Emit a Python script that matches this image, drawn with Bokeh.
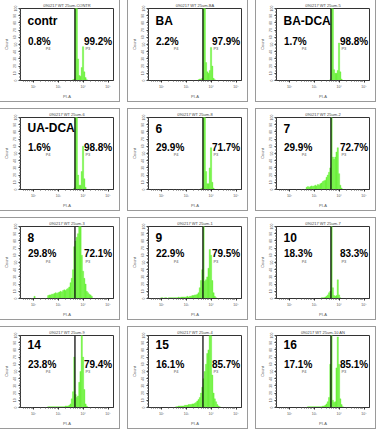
import numpy as np
from bokeh.plotting import figure
from bokeh.layouts import gridplot
from bokeh.models import Span, Label, FixedTicker
from bokeh.embed import file_html
from bokeh.resources import INLINE

# ---- data -------------------------------------------------------------
names = ["contr", "BA", "BA-DCA", "UA-DCA", "6", "7", "8", "9", "10", "14", "15", "16"]
titles = ["090217 WT 25um-CONTR", "090217 WT 25um-BA", "090217 WT 25um-5",
          "090217 WT 25um-6", "090217 WT 25um-8", "090217 WT 25um-2",
          "090217 WT 25um-3", "090217 WT 25um-1", "090217 WT 25um-7",
          "090217 WT 25um-9", "090217 WT 25um-4", "090217 WT 25um-10 AN"]
pct_p4 = ["0.8%", "2.2%", "1.7%", "1.6%", "29.9%", "29.9%", "29.8%", "22.9%", "18.3%", "23.8%", "16.1%", "17.1%"]
pct_p3 = ["99.2%", "97.9%", "98.8%", "98.8%", "71.7%", "72.7%", "72.1%", "79.5%", "83.3%", "79.4%", "85.7%", "85.1%"]

# histogram bins along log10(PI-A): first edge and width (decades)
bin_first = 1.97
bin_width = 0.05
gate_log = 3.67

# counts as % of the y-axis height, 48 bins each
h_contr = [0,0,0,0,0,0,0,0,0,0, 0,0,0,0,0,0,0,0,0,0, 0,0,0,0,0,0,0,0,0,0,
           0,0,1,2,120,120,30,7,6,18, 47,12,4,1,0,0,0,0]
h_ba = [0,0,0,0,0,0,0,0,0,0, 0,0,0,0,0,0,0,0,0,0, 0,0,0,0,0,0,0,0,0,0,
        1,2,2,3,120,110,25,12,10,14, 46,20,3,1,0,0,0,0]
h_badca = [0,0,0,0,0,0,0,0,0,0, 0,0,0,0,0,0,0,0,0,0, 0,0,0,0,0,0,0,0,0,0,
           0,0,0,1,120,100,15,10,10,14, 52,12,2,0,0,0,0,0]
h_uadca = [0,0,0,0,0,0,0,0,0,0, 0,0,0,0,0,0,0,0,0,0, 0,0,0,0,0,0,0,0,0,0,
           0,0,0,2,120,110,20,6,6,25, 60,15,3,0,0,0,0,0]
h_6 = [0,0,0,0,0,0,0,0,0,0, 0,0,0,0,0,0,0,0,0,0, 0,0,0,0,0,0,0,0,0,0,
       0,0,1,2,120,110,25,8,8,30, 58,10,2,0,0,0,0,0]
h_7 = [0,0,0,0,0,0,0,0,0,0, 0,0,0,0,3,4,3,4,5,4, 5,6,5,7,6,8,9,11,12,13,
       17,20,24,30,100,45,42,45,52,58, 22,6,2,0,0,0,0,0]
h_8 = [0,3,0,0,0,0,0,0,0,0, 0,0,4,5,5,6,6,7,8,7, 8,9,10,9,11,12,11,13,14,16,
       22,28,40,72,80,85,90,110,105,60, 38,28,20,10,8,6,5,3]
h_9 = [1,1,0,1,1,0,1,1,1,1, 1,1,1,1,2,1,2,2,2,2, 2,3,2,3,3,4,4,5,5,6,
       8,15,25,40,110,24,26,30,42,68, 60,25,8,3,1,0,0,0]
h_10 = [0,0,0,0,0,0,0,0,0,0, 0,0,0,0,0,0,0,0,0,0, 0,0,0,0,0,0,1,1,1,2,
        3,5,8,10,120,15,4,3,4,26, 5,1,0,0,0,0,0,0]
h_14 = [0,0,0,0,0,0,0,0,0,0, 0,0,1,1,1,1,1,1,1,1, 1,1,1,1,1,1,2,2,2,3,
        5,12,22,70,18,14,16,35,50,110, 70,25,5,2,0,0,0,0]
h_15 = [0,0,0,0,0,0,0,0,0,0, 0,0,1,1,2,2,2,2,2,3, 3,3,4,4,4,5,5,6,7,9,
        11,14,20,28,40,50,60,75,80,110, 100,45,20,12,8,4,2,1]
h_16 = [0,0,0,0,0,0,0,0,0,0, 0,0,0,0,0,1,1,1,1,1, 1,1,1,1,1,1,1,2,2,3,
        5,8,14,60,110,10,7,8,55,98, 60,12,4,1,0,0,0,0]
hists = [h_contr, h_ba, h_badca, h_uadca, h_6, h_7, h_8, h_9, h_10, h_14, h_15, h_16]

x_major = [100, 1000, 10000, 100000]
x_major_labels = ["10²", "10³", "10⁴", "10⁵"]
y_major = [0, 10, 20, 30, 40, 50, 60, 70, 80, 90, 100]

# ---- layout constants ----------------------------------------------
PW, PH = 119, 101
name_y = [83, 85, 85, 87]
pct_y = [54, 59, 62, 60]
GREEN = "#6cf23c"
FONT = "Liberation Sans"


def panel(k):
    row = k // 3
    p = figure(width=PW, height=PH, x_axis_type="log",
               x_range=(10 ** 1.48, 10 ** 5.22), y_range=(0, 100),
               output_backend="svg", toolbar_location=None,
               min_border_left=15, min_border_right=6,
               min_border_top=8, min_border_bottom=15)
    p.styles = {"outline": "1px solid #9a9a9a"}
    p.grid.visible = False
    p.outline_line_color = "#333333"
    p.outline_line_width = 1
    p.background_fill_color = "white"
    p.border_fill_color = "white"

    p.title.text = titles[k]
    p.title.text_font = FONT
    p.title.text_font_size = "4px"
    p.title.text_font_style = "normal"
    p.title.text_color = "#444444"
    p.title.align = "center"
    p.title.standoff = 1

    edges = bin_first + bin_width * np.arange(len(hists[k]) + 1)
    tops = np.array(hists[k], dtype=float)
    p.quad(left=10 ** edges[:-1], right=10 ** edges[1:], bottom=0, top=tops,
           fill_color=GREEN, line_color=GREEN, line_width=0.4)

    p.add_layout(Span(location=10 ** gate_log, dimension="height",
                      line_color="#111111", line_width=1.3))

    minors = [m * 10 ** d for d in range(1, 6) for m in range(2, 10)]
    p.xaxis.ticker = FixedTicker(ticks=x_major, minor_ticks=minors)
    p.xaxis.major_label_overrides = {t: s for t, s in zip(x_major, x_major_labels)}
    p.yaxis.ticker = FixedTicker(ticks=y_major,
                                 minor_ticks=[v for v in range(0, 101, 2)])
    for ax in (p.xaxis[0], p.yaxis[0]):
        ax.axis_line_color = "#333333"
        ax.major_tick_line_color = "#333333"
        ax.minor_tick_line_color = "#555555"
        ax.major_tick_out = 2
        ax.major_tick_in = 0
        ax.minor_tick_out = 1
        ax.minor_tick_in = 0
        ax.major_label_text_font = FONT
        ax.major_label_text_font_size = "3.5px"
        ax.major_label_text_color = "#555555"
        ax.major_label_standoff = 2
        ax.axis_label_text_font = FONT
        ax.axis_label_text_font_size = "4px"
        ax.axis_label_text_font_style = "normal"
        ax.axis_label_text_color = "#555555"
        ax.axis_label_standoff = 2
    p.xaxis.axis_label = "PI-A"
    p.yaxis.axis_label = "Count"
    p.yaxis.major_label_orientation = "vertical"

    p.add_layout(Label(x=10 ** 1.76, y=name_y[row], text=names[k],
                       text_font=FONT, text_font_size="12px", text_font_style="bold",
                       text_baseline="middle", text_align="left", text_color="black"))
    p.add_layout(Label(x=10 ** 1.78, y=pct_y[row], text=pct_p4[k],
                       text_font=FONT, text_font_size="10px", text_font_style="bold",
                       text_baseline="middle", text_align="left", text_color="black"))
    p.add_layout(Label(x=10 ** 4.03, y=pct_y[row], text=pct_p3[k],
                       text_font=FONT, text_font_size="10px", text_font_style="bold",
                       text_baseline="middle", text_align="left", text_color="black"))
    p.add_layout(Label(x=10 ** 2.59, y=pct_y[row] - 10, text="P4",
                       text_font=FONT, text_font_size="4px",
                       text_baseline="middle", text_align="center", text_color="#555555"))
    p.add_layout(Label(x=10 ** 4.19, y=pct_y[row] - 10, text="P3",
                       text_font=FONT, text_font_size="4px",
                       text_baseline="middle", text_align="center", text_color="#555555"))
    return p


panels = [panel(k) for k in range(12)]
grid = gridplot(panels, ncols=3, toolbar_location=None)
grid.spacing = (8, 9)

open("out.html", "w").write(file_html(grid, INLINE))
